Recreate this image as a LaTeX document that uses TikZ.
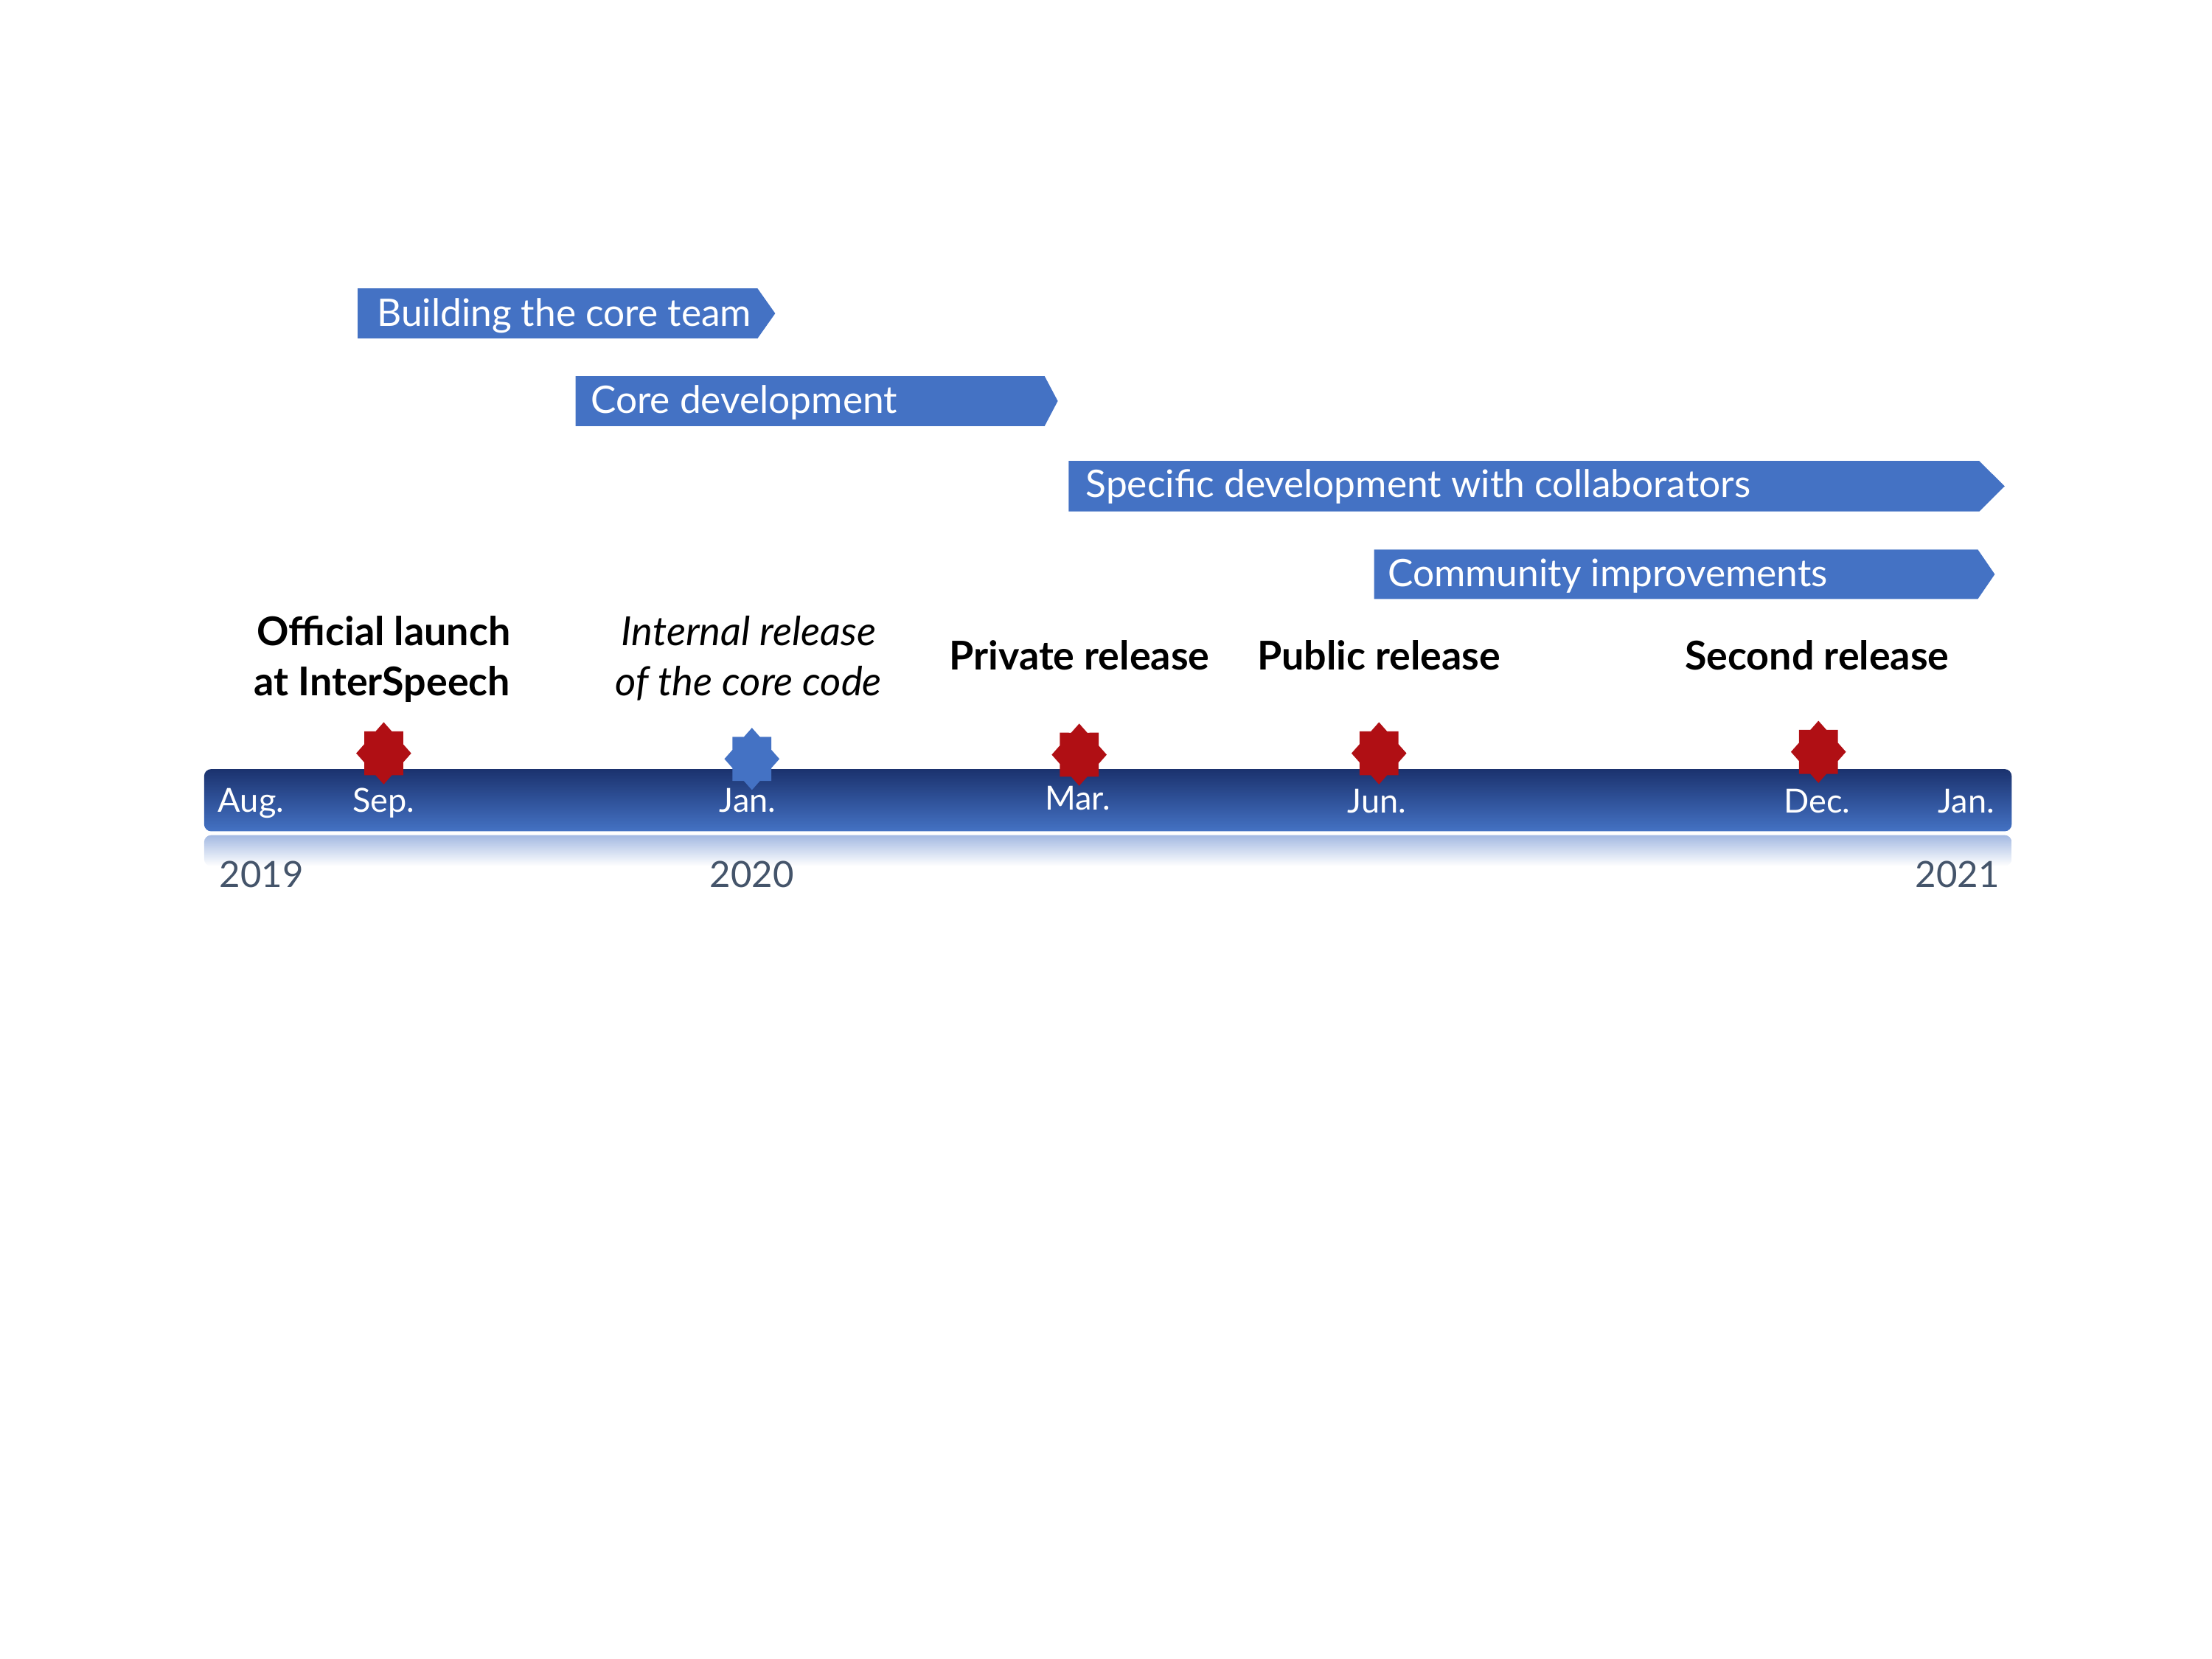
\documentclass[tikz,border=0pt]{standalone}
\usepackage{fontspec}
\setmainfont{Lato}
\usepackage{tikz}
\usetikzlibrary{shapes.geometric}
\definecolor{phaseblue}{HTML}{4472C4}
\definecolor{eventred}{HTML}{B00F14}
\definecolor{bartop}{HTML}{1B326E}
\definecolor{barbottom}{HTML}{4472C4}
\definecolor{barglow}{HTML}{A3B9E2}
\definecolor{yeargray}{HTML}{44546A}
\tikzset{
    phase/.style={fill=phaseblue},
    phaselabel/.style={
        anchor=base west,
        inner sep=0pt,
        text=white,
        font=\fontsize{7.65}{9}\selectfont
    },
    event/.style={
        star,
        star points=8,
        star point ratio=1.307,
        minimum size=0.39cm,
        inner sep=0pt,
        fill=eventred,
        yscale=1.13,
        transform shape
    },
    milestone/.style={
        anchor=base,
        inner sep=0pt,
        font=\bfseries\fontsize{8}{9}\selectfont
    },
    internal/.style={
        anchor=base,
        inner sep=0pt,
        font=\itshape\fontsize{8.1}{9}\selectfont
    },
    month/.style={
        anchor=base,
        inner sep=0pt,
        text=white,
        font=\fontsize{6.7}{8}\selectfont
    },
    year/.style={
        anchor=base,
        inner sep=0pt,
        text=yeargray,
        font=\fontsize{7.3}{9}\selectfont
    }
}

\begin{document}
\begin{tikzpicture}
  \useasboundingbox (0,0) rectangle (15.68,11.76);

  % Phases
  \fill[phase] (2.536,9.361) -- (5.37,9.361) -- (5.495,9.538) -- (5.37,9.715) -- (2.536,9.715) -- cycle;
  \node[phaselabel] (team) at (2.665,9.446) {Building the core team};

  \fill[phase] (4.08,8.74) -- (7.405,8.74) -- (7.498,8.917) -- (7.405,9.093) -- (4.08,9.093) -- cycle;
  \node[phaselabel] (core) at (4.18,8.83) {Core development};

  \fill[phase] (7.575,8.134) -- (14.03,8.134) -- (14.21,8.313) -- (14.03,8.492) -- (7.575,8.492) -- cycle;
  \node[phaselabel] (specific) at (7.69,8.232) {Specific development with collaborators};

  \fill[phase] (9.74,7.514) -- (14.02,7.514) -- (14.14,7.689) -- (14.02,7.864) -- (9.74,7.864) -- cycle;
  \node[phaselabel] (community) at (9.83,7.604) {Community improvements};

  % Timeline bar and its reflection
  \shade[top color=barglow, bottom color=white, rounded corners=0.05cm] (1.447,5.62) rectangle (14.26,5.84);
  \shade[top color=bartop, bottom color=barbottom, rounded corners=0.05cm] (1.447,5.867) rectangle (14.26,6.308);

  % Months
  \node[month, anchor=base west] (aug) at (1.54,6.004) {Aug.};
  \node[month] (sep) at (2.72,6.004) {Sep.};
  \node[month] (jan) at (5.30,6.004) {Jan.};
  \node[month] (mar) at (7.64,6.017) {Mar.};
  \node[month] (jun) at (9.76,6.0) {Jun.};
  \node[month] (dec) at (12.88,6.0) {Dec.};
  \node[month, anchor=base east] (janend) at (14.145,6.0) {Jan.};

  % Years
  \node[year, anchor=base west] (y2019) at (1.55,5.47) {2019};
  \node[year] (y2020) at (5.33,5.47) {2020};
  \node[year, anchor=base east] (y2021) at (14.18,5.47) {2021};

  % Events
  \node[event] (sepstar) at (2.72,6.42) {};
  \node[event, fill=phaseblue] (janstar) at (5.33,6.38) {};
  \node[event] (marstar) at (7.65,6.41) {};
  \node[event] (junstar) at (9.775,6.42) {};
  \node[event] (decstar) at (12.89,6.43) {};

  % Event labels
  \node[milestone] (launch) at (2.72,7.182) {Official launch};
  \node[milestone] (launchb) at (2.71,6.83) {at InterSpeech};
  \node[internal] (internal) at (5.307,7.182) {Internal release};
  \node[internal] (internalb) at (5.306,6.83) {of the core code};
  \node[milestone] (private) at (7.652,7.01) {Private release};
  \node[milestone] (public) at (9.775,7.01) {Public release};
  \node[milestone] (second) at (12.88,7.01) {Second release};
\end{tikzpicture}
\end{document}
